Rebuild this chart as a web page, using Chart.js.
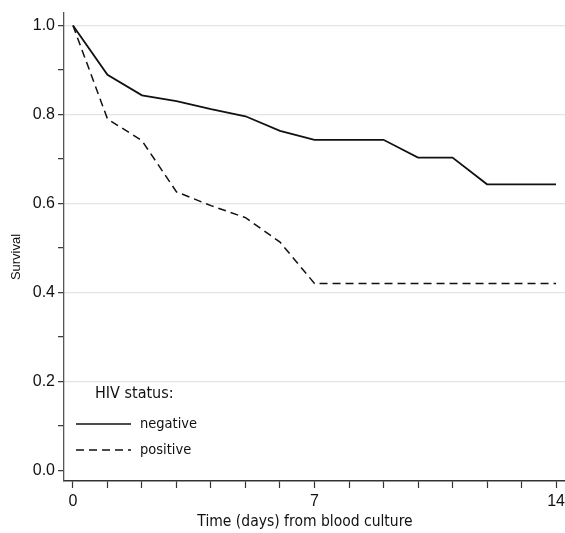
<!DOCTYPE html>
<html>
<head>
<meta charset="utf-8">
<script src="https://cdn.jsdelivr.net/npm/chart.js@4.4.0/dist/chart.umd.min.js"></script>
<style>
  body { margin: 0; background: #fff; }
</style>
</head>
<body>
<canvas id="km" width="565" height="533"></canvas>
<script>
// days from blood culture
const days = [0, 1, 2, 3, 4, 5, 6, 7, 8, 9, 10, 11, 12, 13, 14];
const negativeSurv = [1.0, 0.889, 0.843, 0.83, 0.812, 0.796, 0.763, 0.743, 0.743, 0.743, 0.703, 0.703, 0.643, 0.643, 0.643];
const positiveSurv = [1.0, 0.79, 0.741, 0.626, 0.595, 0.568, 0.513, 0.42, 0.42, 0.42, 0.42, 0.42, 0.42, 0.42, 0.42];
const xLabels = [0, 7, 14];
const yLabels = [0, 0.2, 0.4, 0.6, 0.8, 1.0];

function toPoints(vals) {
    return days.map((d, i) => ({ x: d, y: vals[i] }))
}

const condensed = '"DejaVu Sans Condensed", "DejaVu Sans", sans-serif'

// legend inside the plot (bottom left) and the two axis titles
const extraText = {
    id: 'extraText',
    afterDraw(chart) {
        const ctx = chart.ctx
        const left = chart.chartArea.left
        ctx.save()
        ctx.fillStyle = '#111'
        ctx.textBaseline = 'middle'
        ctx.font = '16px ' + condensed
        ctx.fillText('HIV status:', left + 31, 394)
        chart.data.datasets.forEach((ds, i) => {
            const y = 424 + i * 26
            ctx.beginPath()
            ctx.strokeStyle = ds.borderColor
            ctx.lineWidth = 1.5
            ctx.setLineDash(ds.borderDash || [])
            ctx.moveTo(left + 12, y)
            ctx.lineTo(left + 67, y)
            ctx.stroke()
            ctx.setLineDash([])
            ctx.font = '14.5px ' + condensed
            ctx.fillText(ds.label, left + 76, y)
        })

        ctx.textAlign = 'center'
        ctx.font = '15.5px ' + condensed
        ctx.fillText('Time (days) from blood culture', 305, 522)

        ctx.translate(16, 257)
        ctx.rotate(-Math.PI / 2)
        ctx.font = '13px "Liberation Sans", sans-serif'
        ctx.fillText('Survival', 0, 0)
        ctx.restore()
    }
}

const data = {
    datasets: [{
        label: 'negative',
        data: toPoints(negativeSurv),
        borderColor: '#111',
        borderWidth: 1.8,
        pointRadius: 0,
        tension: 0
    }, {
        label: 'positive',
        data: toPoints(positiveSurv),
        borderColor: '#111',
        borderWidth: 1.5,
        borderDash: [8, 5],
        pointRadius: 0,
        tension: 0
    }]
}

const options = {
    responsive: false,
    animation: false,
    layout: { padding: { top: 5, right: 0, left: 0, bottom: 0 } },
    plugins: { legend: { display: false }, tooltip: { enabled: false } },
    scales: {
        x: {
            type: 'linear',
            min: -0.26,
            max: 14.26,
            afterBuildTicks: axis => { axis.ticks = days.map(v => ({ value: v })) },
            afterFit: axis => {
                axis.height = 52
                axis.paddingLeft = 0
                axis.paddingRight = 0
            },
            ticks: {
                autoSkip: false,
                maxRotation: 0,
                color: '#111',
                padding: 4,
                font: { family: '"Liberation Sans Narrow", "Liberation Sans", sans-serif', size: 16 },
                callback: v => xLabels.includes(v) ? String(v) : ''
            },
            grid: { drawOnChartArea: false, drawTicks: true, tickLength: 7, tickColor: '#333', tickWidth: 1.2 },
            border: { color: '#333', width: 1.5 }
        },
        y: {
            type: 'linear',
            min: -0.024,
            max: 1.029,
            afterBuildTicks: axis => {
                axis.ticks = [0, 0.1, 0.2, 0.3, 0.4, 0.5, 0.6, 0.7, 0.8, 0.9, 1.0].map(v => ({ value: v }))
            },
            afterFit: axis => { axis.width = 64 },
            ticks: {
                autoSkip: false,
                color: '#111',
                padding: 3,
                font: { family: '"Liberation Sans Narrow", "Liberation Sans", sans-serif', size: 16 },
                callback: v => yLabels.some(l => Math.abs(l - v) < 1e-6) ? v.toFixed(1) : ''
            },
            grid: {
                drawTicks: true,
                tickLength: 6,
                tickColor: '#333',
                tickWidth: 1.2,
                lineWidth: 1.3,
                color: c => {
                    const v = c.tick ? c.tick.value : null
                    return (v > 0.01 && yLabels.some(l => Math.abs(l - v) < 1e-6)) ? '#e4e4e4' : 'rgba(0,0,0,0)'
                }
            },
            border: { color: '#555', width: 1.3 }
        }
    }
}

new Chart('km', { type: 'line', data, options, plugins: [extraText] })
</script>
</body>
</html>
